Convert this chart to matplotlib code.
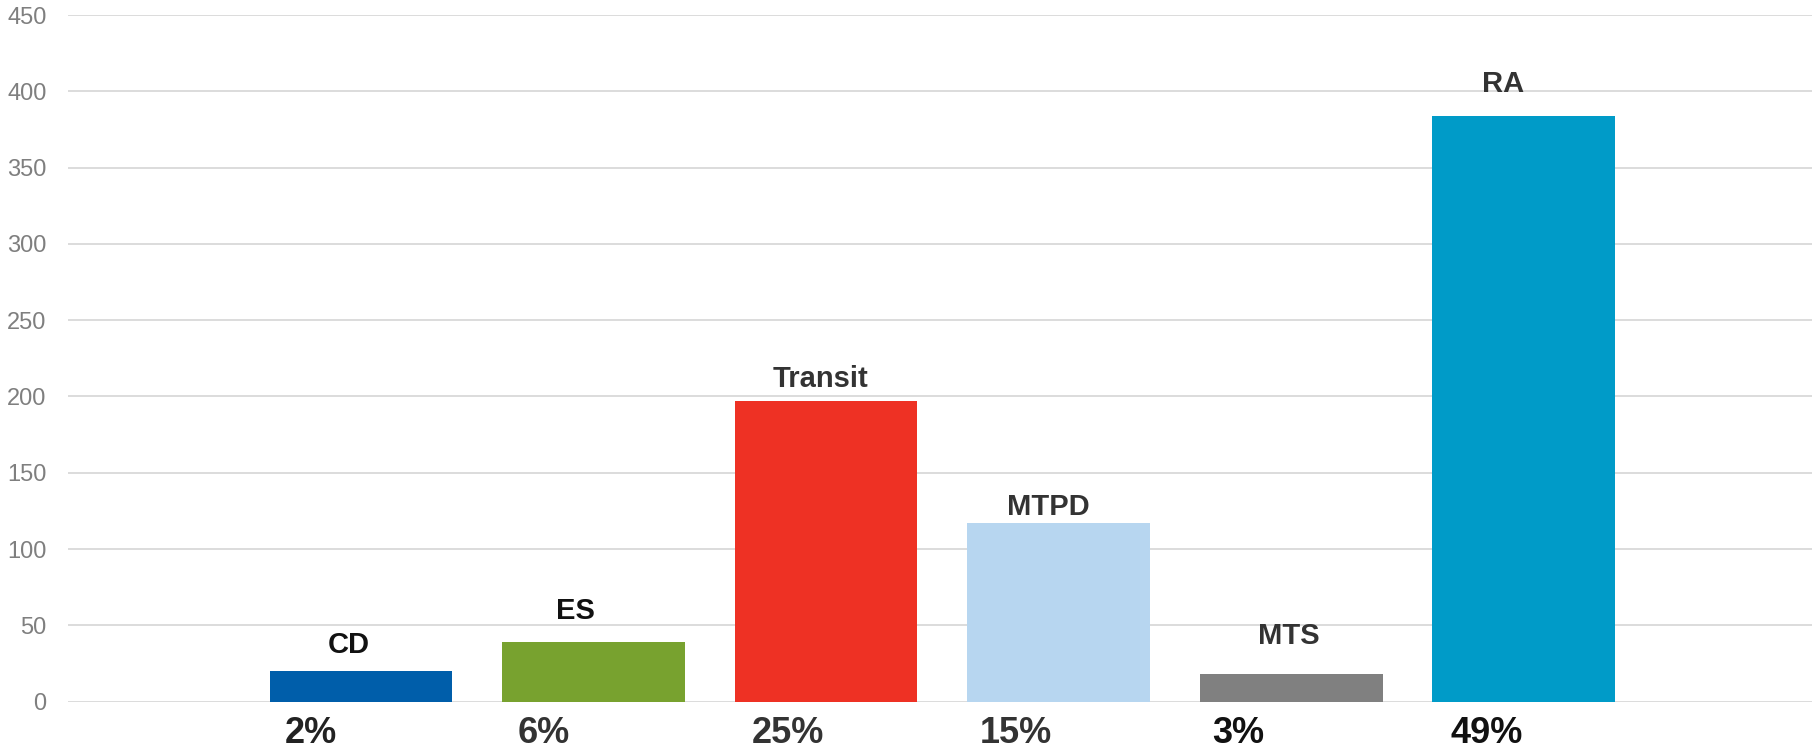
import matplotlib
matplotlib.use("Agg")
import matplotlib.pyplot as plt

categories = ["CD", "ES", "Transit", "MTPD", "MTS", "RA"]
values = [20, 39, 197, 117, 18, 384]
percent_labels = ["2%", "6%", "25%", "15%", "3%", "49%"]
colors = ["#005EAA", "#78A22F", "#EE3124", "#B7D6F0", "#808080", "#009BC8"]
yticks = [0, 50, 100, 150, 200, 250, 300, 350, 400, 450]

# layout-only offsets (points)
name_dx = [-9, -13, -4, -7.5, -2, -15]
name_dy = [13, 17, 10, 6, 22, 17]
name_col = ["#111111", "#111111", "#333333", "#333333", "#333333", "#333333"]
pct_dx = [-36, -36, -27.5, -31, -38, -27]
pct_col = ["#222222", "#333333", "#333333", "#333333", "#111111", "#111111"]

plt.rcParams['font.family'] = ['Liberation Sans', 'DejaVu Sans']

fig = plt.figure(figsize=(18.13, 7.5), dpi=100)
ax = fig.add_axes([0.0375, 0.0645, 0.962, 0.9155])

x = list(range(len(categories)))
bars = ax.bar(x, values, width=0.786, color=colors, zorder=3)

ax.set_ylim(0, 450)
ax.set_xlim(-1.26, len(categories) - 1 + 1.24)
ax.set_yticks(yticks)
ax.yaxis.grid(True, color="#d9d9d9", linewidth=1.3, zorder=0)
ax.set_axisbelow(True)
ax.set_xticks([])
for s in ax.spines.values():
    s.set_visible(False)
ax.tick_params(axis='y', length=0, pad=15.5, labelsize=17, labelcolor="#7f7f7f")

for i, (xi, v) in enumerate(zip(x, values)):
    ax.annotate(categories[i], xy=(xi, v), xytext=(name_dx[i], name_dy[i]),
                textcoords="offset points", ha="center", va="baseline",
                fontsize=21, fontweight="bold", color=name_col[i])
    ax.annotate(percent_labels[i], xy=(xi, 0), xycoords=("data", "axes fraction"),
                xytext=(pct_dx[i], -22.7), textcoords="offset points",
                ha="center", va="center", fontsize=26, fontweight="bold",
                color=pct_col[i], annotation_clip=False)

fig.savefig("out.png", dpi=100)
